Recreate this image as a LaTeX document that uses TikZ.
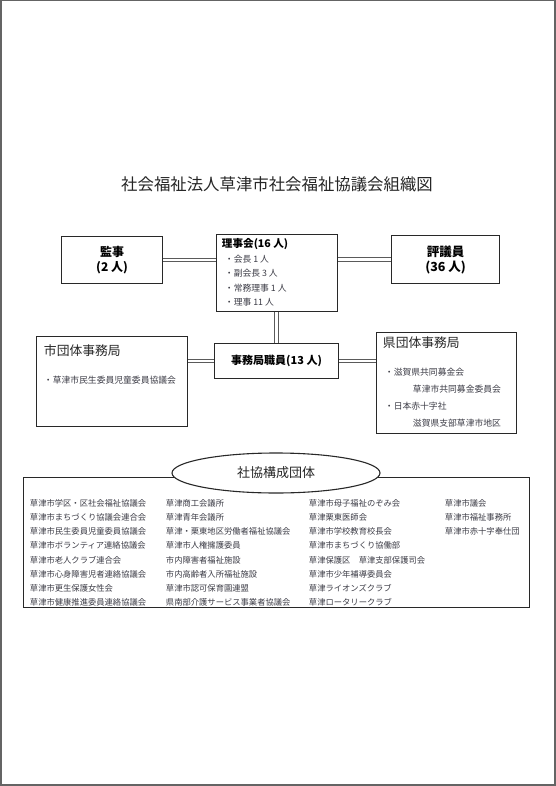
\documentclass[tikz,border=0pt]{standalone}
\usepackage{fontspec}
\setmainfont{Noto Sans CJK JP}
\usetikzlibrary{shapes.geometric}
\definecolor{framegray}{RGB}{100,100,100}
\definecolor{boxline}{RGB}{40,40,40}
\definecolor{linkgray}{RGB}{90,90,90}
\definecolor{textgray}{RGB}{60,60,70}
\tikzset{
  box/.style={draw=boxline, line width=1.1, fill=white, inner sep=0pt, anchor=north west},
  link/.style={draw=linkgray, line width=0.9, double=white, double distance=2.6},
  head/.style={font=\fontsize{12}{15}\selectfont\bfseries, align=center},
  item/.style={anchor=west, inner sep=0.75pt, text=textgray, font=\fontsize{8.8}{10}\selectfont},
  member/.style={anchor=west, inner sep=0.75pt, text=textgray, font=\fontsize{8.3}{10}\selectfont},
}

\begin{document}
\begin{tikzpicture}[x=1pt,y=1pt,yscale=-1,xscale=1]
\useasboundingbox (0,0) rectangle (556,786);
%Page frame
\draw [framegray, line width=1.5] (0.75,0.75) rectangle (554.75,784.75);

% Text Node
\node (title) at (277,184) [inner sep=0.75pt, text=black!85, font=\fontsize{16.4}{20}\selectfont] {社会福祉法人草津市社会福祉協議会組織図};

%Shape: Rectangle
\node (kanji) at (61,236) [box, minimum width=101, minimum height=47] {};
\node (kanjitext) at (kanji.center) [head, font=\fontsize{12}{15}\selectfont\bfseries] {監事\\(2 人)};
%Shape: Rectangle
\node (rijikai) at (216,234) [box, minimum width=121, minimum height=77] {};
\node (rijikaihead) at (221,244) [anchor=west, inner sep=0.75pt, font=\fontsize{10.6}{12}\selectfont\bfseries] {理事会(16 人)};
\node (riji1) at (224,259) [item] {・会長 1 人};
\node (riji2) at (224,273.5) [item] {・副会長 3 人};
\node (riji3) at (224,288) [item] {・常務理事 1 人};
\node (riji4) at (224,302) [item] {・理事 11 人};
%Shape: Rectangle
\node (hyogiin) at (391,235) [box, minimum width=108, minimum height=48] {};
\node (hyogiintext) at (hyogiin.center) [head, font=\fontsize{12.5}{15}\selectfont\bfseries] {評議員\\(36 人)};
%Shape: Rectangle
\node (jimu) at (214,343) [box, minimum width=124, minimum height=35] {};
\node (jimutext) at (jimu.center) [inner sep=0.75pt, font=\fontsize{11}{13}\selectfont\bfseries] {事務局職員(13 人)};
%Shape: Rectangle
\node (shi) at (36,336) [box, minimum width=151, minimum height=90] {};
\node (shititle) at (43,351) [anchor=west, inner sep=0.75pt, text=black!85, font=\fontsize{12.8}{15}\selectfont] {市団体事務局};
\node (shi1) at (43,380) [item] {・草津市民生委員児童委員協議会};
%Shape: Rectangle
\node (ken) at (376,332) [box, minimum width=140, minimum height=101] {};
\node (kentitle) at (382,343) [anchor=west, inner sep=0.75pt, text=black!85, font=\fontsize{12.8}{15}\selectfont] {県団体事務局};
\node (ken1) at (384,372) [item] {・滋賀県共同募金会};
\node (ken2) at (412,389) [item] {草津市共同募金委員会};
\node (ken3) at (384,406) [item] {・日本赤十字社};
\node (ken4) at (412,423) [item] {滋賀県支部草津市地区};

%Straight Lines
\draw [link] (kanji.east) -- (kanji.east -| rijikai.west);
\draw [link] (rijikai.east |- hyogiin.west) -- (hyogiin.west);
\draw [link] (rijikai.south -| jimu.north) -- (jimu.north);
\draw [link] (jimu.west) -- (jimu.west -| shi.east);
\draw [link] (jimu.east) -- (jimu.east -| ken.west);

%Shape: Rectangle
\node (kosei) at (23,477) [box, minimum width=506, minimum height=130] {};
%Shape: Ellipse
\node (koseititle) at (276,473) [ellipse, draw=boxline, line width=1.1, fill=white, minimum width=208, minimum height=40, inner sep=0pt, text=black!85, font=\fontsize{13}{15}\selectfont] {社協構成団体};

% Text Node
\node (m11) at (29,503) [member] {草津市学区・区社会福祉協議会};
\node (m12) at (29,517) [member] {草津市まちづくり協議会連合会};
\node (m13) at (29,531.5) [member] {草津市民生委員児童委員協議会};
\node (m14) at (29,545.5) [member] {草津市ボランティア連絡協議会};
\node (m15) at (29,560) [member] {草津市老人クラブ連合会};
\node (m16) at (29,574) [member] {草津市心身障害児者連絡協議会};
\node (m17) at (29,588) [member] {草津市更生保護女性会};
\node (m18) at (29,602) [member] {草津市健康推進委員連絡協議会};
% Text Node
\node (m21) at (165,503) [member] {草津商工会議所};
\node (m22) at (165,517) [member] {草津青年会議所};
\node (m23) at (165,531.5) [member] {草津・栗東地区労働者福祉協議会};
\node (m24) at (165,545.5) [member] {草津市人権擁護委員};
\node (m25) at (165,560) [member] {市内障害者福祉施設};
\node (m26) at (165,574) [member] {市内高齢者入所福祉施設};
\node (m27) at (165,588) [member] {草津市認可保育園連盟};
\node (m28) at (165,602) [member] {県南部介護サービス事業者協議会};
% Text Node
\node (m31) at (308,503) [member] {草津市母子福祉のぞみ会};
\node (m32) at (308,517) [member] {草津栗東医師会};
\node (m33) at (308,531.5) [member] {草津市学校教育校長会};
\node (m34) at (308,545.5) [member] {草津市まちづくり協働部};
\node (m35) at (308,560) [member] {草津保護区　草津支部保護司会};
\node (m36) at (308,574) [member] {草津市少年補導委員会};
\node (m37) at (308,588) [member] {草津ライオンズクラブ};
\node (m38) at (308,602) [member] {草津ロータリークラブ};
% Text Node
\node (m41) at (444,503) [member] {草津市議会};
\node (m42) at (444,517) [member] {草津市福祉事務所};
\node (m43) at (444,531.5) [member] {草津市赤十字奉仕団};

\end{tikzpicture}
\end{document}
